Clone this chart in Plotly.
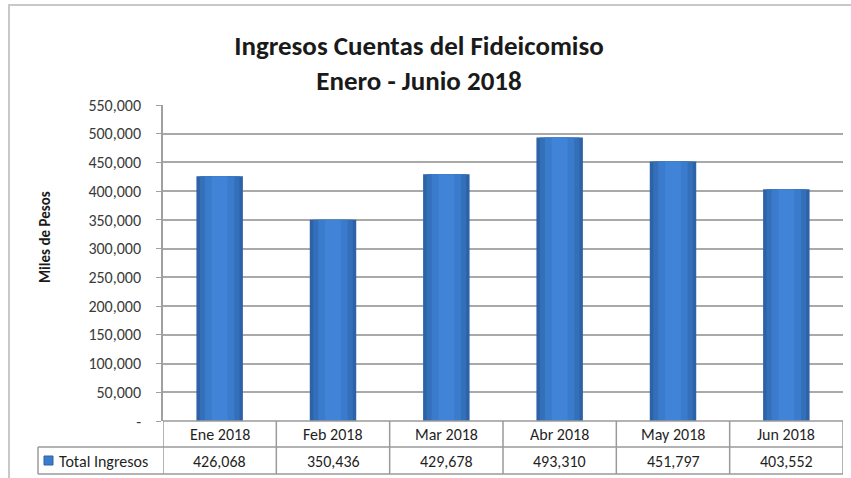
import plotly.graph_objects as go

meses = ["Ene 2018", "Feb 2018", "Mar 2018", "Abr 2018", "May 2018", "Jun 2018"]
ingresos = [426068, 350436, 429678, 493310, 451797, 403552]
serie = "Total Ingresos"
y_ticks = [0, 50000, 100000, 150000, 200000, 250000, 300000, 350000, 400000, 450000, 500000, 550000]

FONT = "Carlito, Calibri, Lato, Arial, sans-serif"
W, H = 851, 478
L, R, T, B = 163, 8, 105, 57
PW, PH = W - L - R, H - T - B


def px_x(px):
    return (px - L) / PW


def px_y(py):
    return (H - B - py) / PH


fig = go.Figure()

# fake cylinder shading: stacked widths, darker at the edges
for w, c in [(0.41, "#2d62a6"), (0.35, "#346fba"), (0.26, "#3b7bcc"), (0.14, "#4183d6")]:
    fig.add_trace(go.Bar(x=meses, y=ingresos, width=w, marker_color=c,
                         marker_line_width=0, showlegend=False, hoverinfo="skip"))

ticktext = ["-" if v == 0 else f"{v:,}" for v in y_ticks]

fig.update_layout(
    width=W, height=H,
    margin=dict(l=L, r=R, t=T, b=B),
    paper_bgcolor="white", plot_bgcolor="white",
    barmode="overlay",
    font=dict(family=FONT, color="#333333"),
    title=dict(text="<b>Ingresos Cuentas del Fideicomiso<br>Enero - Junio 2018</b>",
               x=px_x(419), xref="paper", xanchor="center",
               y=1 - 55 / H, yanchor="middle",
               font=dict(family=FONT, size=27, color="#1a1a1a")),
    xaxis=dict(range=[-0.5, 5.5], showticklabels=False, showgrid=False,
               zeroline=False, showline=False, ticks=""),
    yaxis=dict(range=[0, 550000], tickvals=y_ticks, ticktext=ticktext,
               showgrid=True, gridcolor="#a9a9a9", gridwidth=1.5,
               showline=True, linecolor="#a0a0a0", linewidth=1.5,
               ticks="outside", ticklen=5, tickcolor="#a0a0a0",
               ticklabelstandoff=12,
               zeroline=False, tickfont=dict(size=16, color="#3a3a3a")),
)

shapes = []
line_c = "#9a9a9a"
# outer frame
shapes.append(dict(type="rect", xref="paper", yref="paper",
                   x0=px_x(9), x1=px_x(860), y0=px_y(485), y1=px_y(5),
                   line=dict(color="#c8c8c8", width=2), fillcolor="rgba(0,0,0,0)", layer="below"))
# table horizontal lines
shapes.append(dict(type="line", xref="paper", yref="paper", x0=0, x1=1, y0=px_y(421), y1=px_y(421),
                   line=dict(color=line_c, width=1.5)))
for py in (447, 474):
    shapes.append(dict(type="line", xref="paper", yref="paper", x0=px_x(38), x1=1, y0=px_y(py), y1=px_y(py),
                       line=dict(color=line_c, width=1.5)))
shapes.append(dict(type="line", xref="paper", yref="paper", x0=px_x(38), x1=px_x(38),
                   y0=px_y(447), y1=px_y(474), line=dict(color=line_c, width=1.5)))
for i in range(len(meses) + 1):
    shapes.append(dict(type="line", xref="x", yref="paper", x0=i - 0.5, x1=i - 0.5,
                       y0=px_y(421), y1=px_y(474), line=dict(color=line_c, width=1.5)))
# legend key
shapes.append(dict(type="rect", xref="paper", yref="paper",
                   x0=px_x(44), x1=px_x(53), y0=px_y(465), y1=px_y(456),
                   fillcolor="#3b7bcc", line=dict(color="#2d62a6", width=1)))
fig.update_layout(shapes=shapes)

for m, v in zip(meses, ingresos):
    fig.add_annotation(x=m, xref="x", y=px_y(434), yref="paper", text=m, showarrow=False,
                       yanchor="middle", font=dict(size=16, color="#1f1f1f"))
    fig.add_annotation(x=m, xref="x", y=px_y(461), yref="paper", text=f"{v:,}", showarrow=False,
                       yanchor="middle", font=dict(size=16, color="#1f1f1f"))
fig.add_annotation(x=px_x(57), xref="paper", y=px_y(461), yref="paper", text=serie,
                   showarrow=False, xanchor="left", yanchor="middle",
                   font=dict(size=16, color="#1f1f1f"))
fig.add_annotation(x=px_x(45), xref="paper", y=px_y(237), yref="paper",
                   text="<b>Miles de Pesos</b>", textangle=-90, showarrow=False,
                   xanchor="center", yanchor="middle",
                   font=dict(size=15, color="#1a1a1a"))

fig.write_html("out.html", config={"displayModeBar": False},
               post_script="document.body.style.margin='0';")
